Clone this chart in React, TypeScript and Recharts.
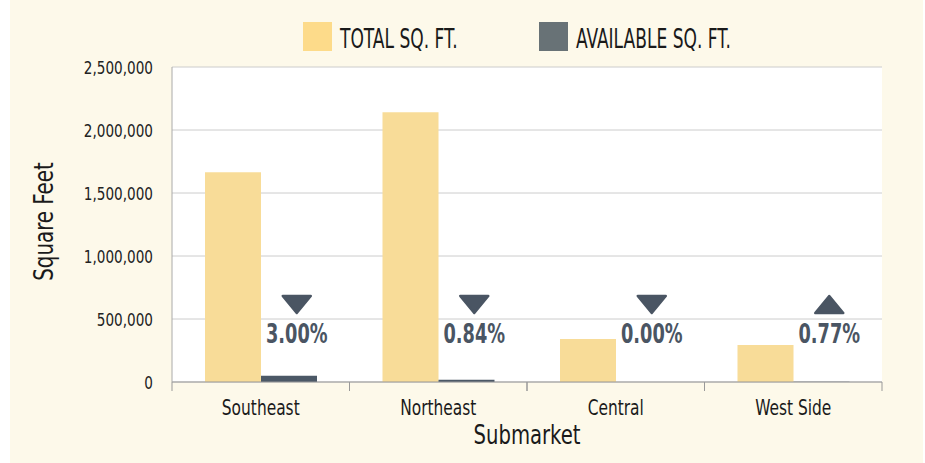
import {
  Bar,
  BarChart,
  CartesianGrid,
  ReferenceDot,
  XAxis,
  YAxis,
} from "recharts";

const submarkets = ["Southeast", "Northeast", "Central", "West Side"];
const totalSqFt = [1665000, 2140000, 342000, 294000];
const availableSqFt = [50000, 18000, 0, 2300];
const changeDirection = ["down", "down", "down", "up"];
const changeLabels = ["3.00%", "0.84%", "0.00%", "0.77%"];
const yTicks = [0, 500000, 1000000, 1500000, 2000000, 2500000];
const seriesNames = ["TOTAL SQ. FT.", "AVAILABLE SQ. FT."];

const FONT = '"DejaVu Sans Condensed", "DejaVu Sans", sans-serif';
const TOTAL_COLOR = "#f8dc98";
const AVAIL_COLOR = "#4b5866";
const LEGEND_COLORS = ["#fddb8a", "#687276"];
const NOTE_COLOR = "#4a5563";
const TEXT_COLOR = "#1a1a1a";

const data = submarkets.map((name, i) => ({
  name,
  total: totalSqFt[i],
  available: availableSqFt[i],
}));

// the original uses a tall condensed face; squeeze DejaVu horizontally to get close
function NText({
  x,
  y,
  sx,
  size,
  anchor = "middle",
  rotate = 0,
  bold = false,
  fill = TEXT_COLOR,
  children,
}: {
  x: number;
  y: number;
  sx: number;
  size: number;
  anchor?: "start" | "middle" | "end";
  rotate?: number;
  bold?: boolean;
  fill?: string;
  children: React.ReactNode;
}) {
  return (
    <text
      x={0}
      y={0}
      transform={`translate(${x},${y}) rotate(${rotate}) scale(${sx},1)`}
      textAnchor={anchor}
      fontFamily={FONT}
      fontSize={size}
      fontWeight={bold ? "bold" : "normal"}
      fill={fill}
    >
      {children}
    </text>
  );
}

type TickProps = {
  x?: number;
  y?: number;
  payload?: { value: any; offset?: number };
};

// category tick with the tick marks drawn on the band edges
function SubmarketTick(props: TickProps) {
  const { x = 0, y = 0, payload } = props;
  const half = payload?.offset ?? 0;
  return (
    <g>
      <line x1={x - half} x2={x - half} y1={y} y2={y + 9} stroke="#999" />
      <line x1={x + half} x2={x + half} y1={y} y2={y + 9} stroke="#999" />
      <NText x={x} y={y + 33} sx={0.78} size={22}>
        {payload?.value}
      </NText>
    </g>
  );
}

function ValueTick(props: TickProps) {
  const { x = 0, y = 0, payload } = props;
  return (
    <NText x={x} y={y + 6.5} sx={0.84} size={18} anchor="end" fill="#222">
      {Number(payload?.value).toLocaleString("en-US")}
    </NText>
  );
}

function changeMarker(i: number) {
  return function Marker(props: { cx?: number; cy?: number }) {
    const { cx = 0, cy = 0 } = props;
    const x = cx + 36;
    const tri =
      changeDirection[i] === "down"
        ? `${x - 14},${cy - 23} ${x + 14},${cy - 23} ${x},${cy - 6}`
        : `${x - 14},${cy - 6} ${x + 14},${cy - 6} ${x},${cy - 23}`;
    return (
      <g>
        <polygon points={tri} fill={NOTE_COLOR} stroke={NOTE_COLOR} strokeWidth={2.5} strokeLinejoin="round" />
        <NText x={x} y={cy + 24} sx={0.76} size={26} bold fill={NOTE_COLOR}>
          {changeLabels[i]}
        </NText>
      </g>
    );
  };
}

function LegendOverlay() {
  const swatchX = [303, 539];
  return (
    <svg width={925} height={70} style={{ position: "absolute", left: 0, top: 0 }}>
      {seriesNames.map((s, i) => (
        <g key={s}>
          <rect x={swatchX[i]} y={22} width={29} height={29} fill={LEGEND_COLORS[i]} />
          <NText x={swatchX[i] + 37} y={48} sx={0.73} size={26} anchor="start">
            {s}
          </NText>
        </g>
      ))}
    </svg>
  );
}

export default function App() {
  return (
    <div style={{ position: "absolute", left: 0, top: 0, width: 925, height: 463, background: "#fff" }}>
      <div style={{ position: "absolute", left: 10, top: 0, width: 913, height: 463, background: "#fdf9ea" }}>
        <BarChart
          width={913}
          height={463}
          data={data}
          margin={{ top: 67, right: 41, left: 0, bottom: 0 }}
          barCategoryGap={33}
          barGap={0}
        >
          <CartesianGrid vertical={false} stroke="#cccccc" fill="#ffffff" />
          <XAxis
            dataKey="name"
            height={81}
            axisLine={{ stroke: "#999" }}
            tickLine={false}
            tickSize={0}
            tickMargin={0}
            tick={<SubmarketTick />}
            interval={0}
            label={{
              content: ({ viewBox }: any) => (
                <NText x={(viewBox?.x ?? 0) + (viewBox?.width ?? 0) / 2} y={(viewBox?.y ?? 0) + 62} sx={0.84} size={26}>
                  Submarket
                </NText>
              ),
            }}
          />
          <YAxis
            width={162}
            domain={[0, 2500000]}
            ticks={yTicks}
            axisLine={{ stroke: "#aaa" }}
            tickLine={false}
            tickSize={0}
            tickMargin={19}
            tick={<ValueTick />}
            label={{
              content: ({ viewBox }: any) => (
                <NText
                  x={(viewBox?.x ?? 0) + 43}
                  y={(viewBox?.y ?? 0) + (viewBox?.height ?? 0) / 2 - 3}
                  sx={0.85}
                  size={26}
                  rotate={-90}
                >
                  Square Feet
                </NText>
              ),
            }}
          />
          <Bar dataKey="total" name={seriesNames[0]} fill={TOTAL_COLOR} isAnimationActive={false} />
          <Bar dataKey="available" name={seriesNames[1]} fill={AVAIL_COLOR} isAnimationActive={false} />
          {submarkets.map((s, i) => (
            <ReferenceDot key={s} x={s} y={500000} r={0} shape={changeMarker(i)} ifOverflow="visible" />
          ))}
        </BarChart>
      </div>
      <LegendOverlay />
    </div>
  );
}
